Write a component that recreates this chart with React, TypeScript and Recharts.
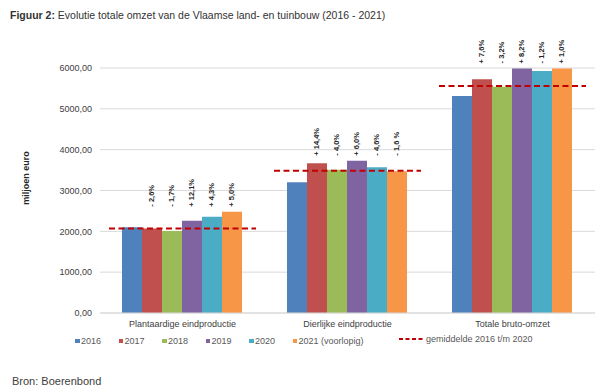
import React from 'react';
import { BarChart, Bar, XAxis, YAxis, CartesianGrid, LabelList } from 'recharts';

const categories = ['Plantaardige eindproductie', 'Dierlijke eindproductie', 'Totale bruto-omzet'];
const years = ['2016', '2017', '2018', '2019', '2020', '2021'];
const yearLabels = ['2016', '2017', '2018', '2019', '2020', '2021 (voorlopig)'];
const y2016 = [2099, 3201, 5315];
const y2017 = [2070, 3666, 5723];
const y2018 = [2010, 3510, 5543];
const y2019 = [2261, 3730, 5990];
const y2020 = [2359, 3568, 5925];
const y2021 = [2481, 3470, 5990];
const average = [2068, 3485, 5560];
const chg2017 = ['- 2,6%', '+ 14,4%', '+ 7,6%'];
const chg2018 = ['- 1,7%', '- 4,0%', '- 3,2%'];
const chg2019 = ['+ 12,1%', '+ 6,0%', '+ 8,2%'];
const chg2020 = ['+ 4,3%', '- 4,6%', '- 1,2%'];
const chg2021 = ['+ 5,0%', '- 1,6 %', '+ 1,0%'];
const yTicks = [0, 1000, 2000, 3000, 4000, 5000, 6000];

const colors = ['#4f81bd', '#c0504d', '#9bbb59', '#8064a2', '#4bacc6', '#f79646'];
const avgColor = '#c00000';
const FONT = '"Liberation Sans", Arial, Helvetica, sans-serif';

const series = [y2016, y2017, y2018, y2019, y2020, y2021];
const changes = [null, chg2017, chg2018, chg2019, chg2020, chg2021];

const data = categories.map((cat, i) => {
  const row: any = { cat, avg: average[i] };
  years.forEach((yr, k) => {
    row['y' + yr] = series[k][i];
    if (changes[k]) row['c' + yr] = (changes[k] as string[])[i];
  });
  return row;
});

const makeLabel = (seriesIdx: number) => (props: any) => {
  const { x, y, width, height, value, index } = props;
  if (value == null || index == null) return null;
  const v = series[seriesIdx][index];
  const base = Number(y) + Number(height);
  const pxPerUnit = Number(height) / v;
  const groupMax = Math.max(...series.map((s) => s[index]));
  const yb = base - groupMax * pxPerUnit - 5;
  const cx = Number(x) + Number(width) / 2;
  return (
    <text
      x={cx}
      y={yb}
      transform={`rotate(-90, ${cx}, ${yb})`}
      textAnchor="start"
      dominantBaseline="central"
      fontSize={7.5}
      fontWeight="bold"
      fill="#262626"
      fontFamily={FONT}
    >
      {value}
    </text>
  );
};

const AvgShape = (props: any) => {
  const { x, y, width } = props;
  return (
    <line x1={x} x2={x + width} y1={y} y2={y} stroke={avgColor} strokeWidth={2} strokeDasharray="6 3.5" />
  );
};

const fmt = (v: number) => v.toFixed(2).replace('.', ',');

export default function App() {
  return (
    <div style={{ position: 'absolute', left: 0, top: 0, width: 600, height: 392, background: '#fff', fontFamily: FONT, color: '#333' }}>
      <div style={{ position: 'absolute', left: 10, top: 9, fontSize: 10.5, color: '#333', whiteSpace: 'nowrap' }}>
        <b>Figuur 2:</b> Evolutie totale omzet van de Vlaamse land- en tuinbouw (2016 - 2021)
      </div>
      <div style={{ position: 'absolute', left: 26, top: 178, width: 0, height: 0 }}>
        <div style={{ position: 'absolute', transform: 'translate(-50%, -50%) rotate(-90deg)', fontSize: 9, fontWeight: 'bold', color: '#262626', whiteSpace: 'nowrap' }}>
          miljoen euro
        </div>
      </div>
      <div style={{ position: 'absolute', left: 0, top: 0 }}>
        <BarChart width={600} height={392} data={data} margin={{ top: 68, right: 5, bottom: 49, left: 0 }} barCategoryGap={22} barGap={0}>
          <CartesianGrid vertical={false} stroke="#d9d9d9" />
          <XAxis dataKey="cat" tickLine={false} axisLine={{ stroke: '#d9d9d9' }} tick={{ fontSize: 9, fill: '#404040', fontFamily: FONT }} height={30} />
          <XAxis xAxisId="avg" dataKey="cat" hide />
          <YAxis
            width={100}
            domain={[0, 6000]}
            ticks={yTicks}
            tickFormatter={fmt}
            tickLine={false}
            axisLine={false}
            tick={{ fontSize: 9, fill: '#404040', fontFamily: FONT }}
          />
          {years.map((yr, k) => (
            <Bar key={yr} dataKey={'y' + yr} fill={colors[k]} isAnimationActive={false}>
              {k > 0 && <LabelList dataKey={'c' + yr} content={makeLabel(k)} />}
            </Bar>
          ))}
          <Bar xAxisId="avg" dataKey="avg" barSize={147} shape={AvgShape} isAnimationActive={false} />
        </BarChart>
      </div>
      {yearLabels.map((lbl, k) => (
        <div key={lbl} style={{ position: 'absolute', left: 75 + k * 43.5, top: 336, fontSize: 9, color: '#595959', whiteSpace: 'nowrap', display: 'flex', alignItems: 'center' }}>
          <span style={{ display: 'inline-block', width: 4.5, height: 4.5, background: colors[k], marginRight: 1.5 }} />
          {lbl}
        </div>
      ))}
      <div style={{ position: 'absolute', left: 399, top: 334, fontSize: 9, color: '#595959', whiteSpace: 'nowrap', display: 'flex', alignItems: 'center' }}>
        <svg width={24} height={6} style={{ marginRight: 3 }}>
          <line x1={0} x2={24} y1={3} y2={3} stroke={avgColor} strokeWidth={2} strokeDasharray="4 2.5" />
        </svg>
        gemiddelde 2016 t/m 2020
      </div>
      <div style={{ position: 'absolute', left: 12, top: 375, fontSize: 11, color: '#404040', whiteSpace: 'nowrap' }}>
        Bron: Boerenbond
      </div>
    </div>
  );
}
